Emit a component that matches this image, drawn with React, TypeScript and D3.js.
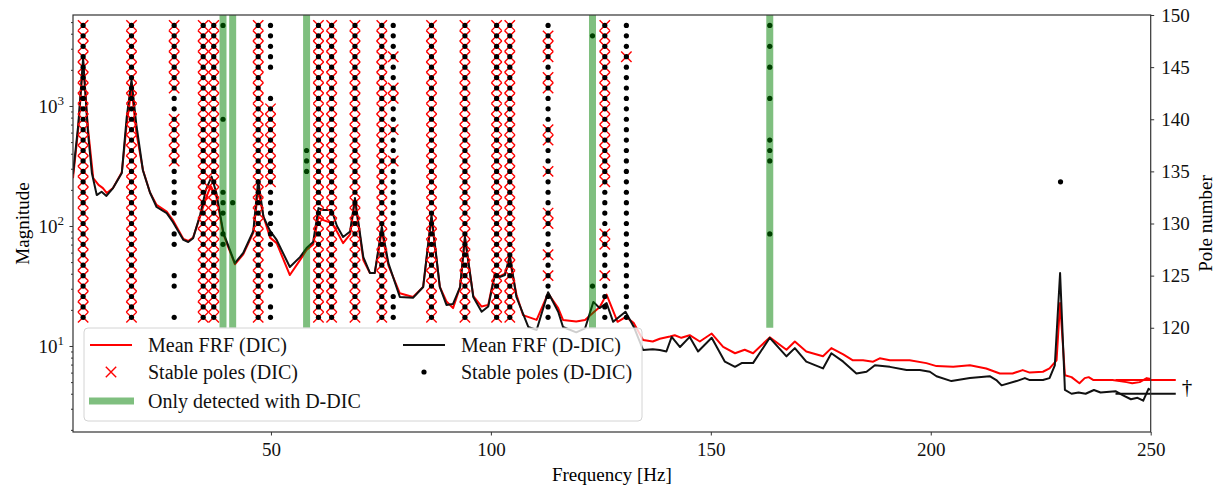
import React, { useEffect, useRef } from "react";
import * as d3 from "d3";

// axis ticks
const freqTicks = [50, 100, 150, 200, 250];
const magTicks = [10, 100, 1000];
const poleTicks = [120, 125, 130, 135, 140, 145, 150];

// mean FRF (DIC), [frequency Hz, magnitude]
const dicFrf: [number, number][] = [
  [5, 250], [6.2, 650], [7.3, 2350], [8.4, 650], [9.6, 251], [10.8, 220], [11.8, 207], [12.7, 188],
  [14.1, 207], [16.1, 280], [17.2, 700], [18.3, 1400], [19.4, 600], [20.9, 293], [22.5, 190], [24.0, 150],
  [26.3, 132], [27.7, 112], [30.1, 78], [31.2, 75], [32.3, 80], [33.9, 120], [35.2, 170], [36.3, 215],
  [37.6, 175], [39.2, 85], [41.8, 48], [43.7, 58], [46.0, 88], [47.1, 200], [48.3, 120], [49.8, 80],
  [51.3, 72], [54.3, 39], [56.6, 52], [58.1, 63], [59.6, 70], [60.8, 119], [61.9, 112], [63.8, 106],
  [65.0, 90], [66.4, 72], [68.0, 85], [69.1, 165], [71.0, 52], [72.5, 40.6], [73.6, 40.6], [75.2, 90],
  [76.7, 47], [79.3, 27.5], [82.3, 25.6], [84.6, 31], [86.5, 116], [88.4, 31], [89.9, 23.5], [91.4, 20.7],
  [93.0, 31], [94.1, 80], [96.0, 26], [97.9, 21.3], [99.4, 22], [100.9, 40.6], [102.0, 38], [103.2, 40],
  [104.3, 52], [105.8, 27], [107.3, 18.1], [110.4, 16.5], [113.0, 27.5], [115.3, 20.7], [116.4, 16.5],
  [119.4, 16], [121.4, 16.5], [123.3, 19], [124.7, 21], [126.3, 26.8], [128.8, 15.9], [130.7, 17.5],
  [132.5, 15.5], [134.6, 11.2], [136.8, 10.9], [138.4, 11.5], [140.7, 12.0], [141.8, 12.3], [143.3, 11.7],
  [145.2, 12.3], [147.5, 10.9], [150.2, 12.7], [152.8, 9.85], [155.5, 8.7], [157.7, 9.3], [159.6, 8.7],
  [163.4, 11.8], [167.2, 9.3], [169.1, 10.9], [171.7, 9.0], [175.5, 8.2], [177.4, 9.6], [180.1, 8.5],
  [182.3, 7.6], [184.6, 7.6], [186.9, 7.4], [188.4, 7.9], [190.7, 7.6], [195.2, 7.6], [199.0, 7.2],
  [201.3, 6.8], [205.1, 6.7], [208.9, 6.9], [212.6, 6.5], [215.7, 5.9], [218.6, 5.9], [220.9, 6.3],
  [222.5, 6.0], [225.5, 6.1], [227.0, 6.5], [228.6, 7.6], [229.4, 22.8], [230.5, 5.7], [232.0, 5.5],
  [233.8, 4.9], [235.0, 5.4], [235.9, 5.5], [237.0, 5.2], [241.3, 5.2], [244.5, 5.0], [245.8, 4.9],
  [247.5, 5.0], [249.1, 5.4], [250, 5.3],
];

// mean FRF (D-DIC)
const ddicFrf: [number, number][] = [
  [5, 270], [6.2, 700], [7.3, 2500], [8.4, 600], [9.3, 275], [10.4, 181], [11.5, 193], [12.6, 178],
  [14.1, 207], [16.1, 277], [17.2, 800], [18.3, 1650], [19.4, 700], [20.9, 290], [22.5, 190], [24.0, 144],
  [26.3, 128], [27.7, 108], [30.1, 76.5], [31.2, 73.6], [32.3, 79], [33.9, 124], [35.2, 200], [36.5, 258],
  [37.6, 188], [39.2, 87.5], [41.8, 49], [43.7, 59.6], [46.0, 91], [47.1, 242], [48.3, 119], [49.8, 91],
  [51.3, 76.5], [54.3, 45.5], [56.6, 55], [58.1, 65.6], [59.6, 73.6], [60.8, 141], [61.9, 136], [63.8, 136],
  [65.0, 100], [66.4, 81], [68.0, 90], [69.1, 171], [71.0, 55], [72.5, 40.6], [73.6, 40.6], [75.2, 98.5],
  [76.7, 49], [79.3, 25.6], [82.3, 25.2], [84.6, 31], [86.5, 124], [88.4, 31], [89.9, 22], [91.4, 22.4],
  [93.0, 31], [94.1, 81], [96.0, 25.6], [97.9, 19.3], [99.4, 21.3], [100.9, 39], [102.0, 37.6], [103.2, 39],
  [104.3, 57.3], [105.8, 25.6], [108.5, 14.4], [110.4, 13.6], [113.0, 28], [115.3, 19.3], [116.4, 14.4],
  [119.4, 13], [121.4, 14], [123.3, 23.3], [124.7, 20.7], [126.3, 22.8], [127.8, 15.9], [130.6, 19.3],
  [132.5, 14.4], [134.6, 9.26], [136.8, 9.4], [138.4, 9.26], [139.9, 9.0], [141.1, 11.9], [143.0, 9.8],
  [145.2, 11.9], [147.1, 9.0], [150.2, 11.7], [153.2, 7.4], [155.5, 6.7], [157.0, 7.2], [159.6, 7.2],
  [163.4, 11.7], [167.2, 8.2], [169.1, 9.6], [171.7, 7.4], [175.5, 6.5], [177.4, 8.7], [180.1, 7.4],
  [183.1, 5.9], [185.4, 6.1], [187.3, 6.9], [190.7, 6.7], [194.5, 6.3], [197.5, 6.3], [199.8, 6.1],
  [201.3, 5.6], [204.7, 5.1], [208.9, 5.4], [213.4, 5.6], [214.9, 5.2], [216.1, 4.7], [219.5, 5.1],
  [221.4, 5.4], [222.5, 5.2], [225.5, 5.2], [227.0, 5.4], [228.2, 6.9], [229.4, 40.6], [230.5, 4.3],
  [232.0, 4.0], [233.6, 4.1], [235.2, 4.0], [237.1, 4.3], [238.6, 4.1], [242.0, 4.2], [243.6, 3.9],
  [245.5, 3.6], [247.0, 3.7], [248.3, 3.5], [249.5, 4.4], [250, 4.3],
];

// flat levels marked with a dagger on the right
const levelFreq = [242, 255.7];
const levelMag = [5.2, 4.0];

// stable poles: frequency and ranges of pole numbers
const dicPoleFreq = [7.3, 18.3, 28.0, 34.6, 37.0, 47.1, 49.9, 60.8, 63.8, 69.1, 75.2, 77.8, 86.5, 94.1, 101.3, 104.3, 113.0, 125.9, 130.8];
const dicPoleOrders: [number, number][][] = [
  [[121, 149]], [[121, 149]], [[143, 149], [136, 140]], [[121, 149]], [[121, 149]], [[121, 149]],
  [[134, 141]], [[121, 149]], [[121, 149]], [[121, 149]], [[121, 149]],
  [[146, 146], [142, 143], [139, 139], [136, 136]],
  [[121, 149]], [[121, 149]], [[121, 149]], [[121, 149]],
  [[146, 148], [143, 144], [138, 139], [135, 135], [130, 131], [127, 127], [125, 125]],
  [[134, 149], [128, 129], [125, 125]], [[146, 146]],
];

const ddicPoleFreq = [7.3, 18.3, 28.0, 34.6, 37.0, 39.1, 41.3, 47.1, 49.9, 58.1, 60.8, 63.8, 69.1, 75.2, 77.8, 86.5, 94.1, 101.3, 104.3, 113.0, 123.1, 125.9, 130.8, 163.4, 229.5];
const ddicPoleOrders: [number, number][][] = [
  [[121, 149]], [[121, 149]], [[131, 149], [128, 129], [124, 125], [121, 121]], [[121, 149]], [[121, 149]],
  [[149, 149], [140, 140], [131, 133], [128, 129]], [[132, 132]], [[121, 149]],
  [[145, 149], [128, 142], [124, 125], [121, 122]], [[135, 137]],
  [[121, 149]], [[121, 149]], [[121, 149]], [[121, 149]], [[127, 149], [121, 123]],
  [[121, 149]], [[121, 149]], [[121, 149]], [[121, 149]], [[121, 149]],
  [[148, 148], [124, 124]], [[121, 149]], [[121, 149]],
  [[149, 149], [147, 147], [145, 145], [142, 142], [136, 138], [129, 129]], [[134, 134]],
];

// modes only detected with D-DIC
const onlyDdicFreq = [39.1, 41.3, 58.1, 123.1, 163.4];
const onlyDdicSpan = [120, 150];

const FONT = "'Liberation Serif', 'Times New Roman', serif";
const CROSS = "M-5.2,-5.2L5.2,5.2M-5.2,5.2L5.2,-5.2";

function expand(freqs: number[], orders: [number, number][][]) {
  const pts: [number, number][] = [];
  freqs.forEach((f, i) => {
    orders[i].forEach(([a, b]) => {
      for (let o = a; o <= b; o++) pts.push([f, o]);
    });
  });
  return pts;
}

export default function App() {
  const ref = useRef<SVGSVGElement>(null);

  useEffect(() => {
    const svg = d3.select(ref.current);
    svg.selectAll("*").remove();

    const left = 73, right = 1150.7, top = 15, bottom = 432;

    const x = d3.scaleLinear().domain([5, 250]).range([left, right]);
    const yMag = d3.scaleLog().domain([1.92, 5730]).range([bottom, top]);
    const yPole = d3.scaleLinear().domain([110, 150]).range([bottom, top]);

    svg.append("defs").append("clipPath").attr("id", "plot")
      .append("rect").attr("x", left).attr("y", top)
      .attr("width", right - left).attr("height", bottom - top);

    const line = d3.line<[number, number]>()
      .x(d => x(d[0]))
      .y(d => yMag(d[1]));

    const curves = svg.append("g").attr("clip-path", "url(#plot)");
    curves.append("path").attr("d", line(dicFrf))
      .attr("fill", "none").attr("stroke", "#ff0000").attr("stroke-width", 2)
      .attr("stroke-linejoin", "round");
    curves.append("path").attr("d", line(ddicFrf))
      .attr("fill", "none").attr("stroke", "#111").attr("stroke-width", 2)
      .attr("stroke-linejoin", "round");

    // dagger levels, running past the right axis
    const levelColors = ["#ff0000", "#111"];
    levelMag.forEach((m, i) => {
      svg.append("line")
        .attr("x1", x(levelFreq[0])).attr("x2", x(levelFreq[1]))
        .attr("y1", yMag(m)).attr("y2", yMag(m))
        .attr("stroke", levelColors[i]).attr("stroke-width", 2);
    });
    svg.append("text").text("†")
      .attr("x", 1187).attr("y", 394)
      .attr("text-anchor", "middle")
      .attr("font-family", FONT).attr("font-size", 21);

    // stable poles
    const poles = svg.append("g").attr("clip-path", "url(#plot)");
    poles.selectAll("path.cross")
      .data(expand(dicPoleFreq, dicPoleOrders))
      .enter().append("path")
      .attr("class", "cross")
      .attr("transform", d => `translate(${x(d[0])},${yPole(d[1])})`)
      .attr("d", CROSS)
      .attr("stroke", "#ff0000").attr("stroke-width", 1.4).attr("fill", "none");

    poles.selectAll("circle.dot")
      .data(expand(ddicPoleFreq, ddicPoleOrders))
      .enter().append("circle")
      .attr("class", "dot")
      .attr("cx", d => x(d[0])).attr("cy", d => yPole(d[1]))
      .attr("r", 2.6).attr("fill", "#000");

    poles.selectAll("line.only")
      .data(onlyDdicFreq)
      .enter().append("line")
      .attr("class", "only")
      .attr("x1", d => x(d)).attr("x2", d => x(d))
      .attr("y1", yPole(onlyDdicSpan[0])).attr("y2", yPole(onlyDdicSpan[1]))
      .attr("stroke", "#008000").attr("stroke-opacity", 0.5).attr("stroke-width", 7);

    // axes
    const tickFont = (g: any) => g.selectAll("text")
      .attr("font-family", FONT).attr("font-size", 19).attr("fill", "#111");
    const axisColor = (g: any) => {
      g.select(".domain").remove();
      g.selectAll("line").attr("stroke", "#333").attr("stroke-width", 1);
    };

    svg.append("g")
      .attr("transform", `translate(0,${bottom})`)
      .call(d3.axisBottom(x).tickValues(freqTicks).tickSize(3.5).tickPadding(7).tickFormat(d3.format("d")))
      .call(axisColor).call(tickFont);

    const minor = yMag.ticks().filter(v => !magTicks.includes(v));
    svg.append("g")
      .attr("transform", `translate(${left},0)`)
      .call(d3.axisLeft(yMag).tickValues(minor).tickSize(2).tickFormat(() => ""))
      .call(axisColor);

    const yAxis = svg.append("g")
      .attr("transform", `translate(${left},0)`)
      .call(d3.axisLeft(yMag).tickValues(magTicks).tickSize(3.5).tickFormat(() => ""))
      .call(axisColor);
    yAxis.selectAll("g.tick").each(function (d: any) {
      const t = d3.select(this).append("text")
        .attr("x", -9).attr("y", 6.5)
        .attr("text-anchor", "end")
        .attr("font-family", FONT).attr("fill", "#111");
      t.append("tspan").attr("font-size", 19).text("10");
      t.append("tspan").attr("font-size", 13).attr("dy", -8).text(String(Math.round(Math.log10(d))));
    });

    svg.append("g")
      .attr("transform", `translate(${right},0)`)
      .call(d3.axisRight(yPole).tickValues(poleTicks).tickSize(3.5).tickPadding(7))
      .call(axisColor).call(tickFont);

    svg.append("rect")
      .attr("x", left).attr("y", top)
      .attr("width", right - left).attr("height", bottom - top)
      .attr("fill", "none").attr("stroke", "#333").attr("stroke-width", 1.2);

    // axis labels
    svg.append("text").text("Frequency [Hz]")
      .attr("x", (left + right) / 2).attr("y", 481)
      .attr("text-anchor", "middle")
      .attr("font-family", FONT).attr("font-size", 19);
    svg.append("text").text("Magnitude")
      .attr("transform", `translate(29,${(top + bottom) / 2}) rotate(-90)`)
      .attr("text-anchor", "middle")
      .attr("font-family", FONT).attr("font-size", 19);
    svg.append("text").text("Pole number")
      .attr("transform", `translate(1212,${(top + bottom) / 2}) rotate(-90)`)
      .attr("text-anchor", "middle")
      .attr("font-family", FONT).attr("font-size", 19);

    // legend
    const lg = svg.append("g");
    lg.append("rect")
      .attr("x", 84).attr("y", 328).attr("width", 558).attr("height", 93).attr("rx", 4)
      .attr("fill", "#fff").attr("fill-opacity", 0.8)
      .attr("stroke", "#d4d4d4").attr("stroke-width", 1);

    const items = [
      { label: "Mean FRF (DIC)", kind: "line", color: "#ff0000", x: 90, y: 345 },
      { label: "Mean FRF (D-DIC)", kind: "line", color: "#111", x: 403, y: 345 },
      { label: "Stable poles (DIC)", kind: "cross", color: "#ff0000", x: 90, y: 372 },
      { label: "Stable poles (D-DIC)", kind: "dot", color: "#000", x: 403, y: 372 },
      { label: "Only detected with D-DIC", kind: "bar", color: "#008000", x: 90, y: 401 },
    ];
    items.forEach(it => {
      const cx = it.x + 21;
      if (it.kind === "line") {
        lg.append("line").attr("x1", it.x).attr("x2", it.x + 42)
          .attr("y1", it.y).attr("y2", it.y)
          .attr("stroke", it.color).attr("stroke-width", 2);
      } else if (it.kind === "cross") {
        lg.append("path").attr("transform", `translate(${cx},${it.y})`)
          .attr("d", CROSS)
          .attr("stroke", it.color).attr("stroke-width", 1.4);
      } else if (it.kind === "dot") {
        lg.append("circle").attr("cx", cx).attr("cy", it.y).attr("r", 2.6).attr("fill", it.color);
      } else {
        lg.append("line").attr("x1", it.x - 1).attr("x2", it.x + 44)
          .attr("y1", it.y).attr("y2", it.y)
          .attr("stroke", it.color).attr("stroke-opacity", 0.5).attr("stroke-width", 7);
      }
      lg.append("text").text(it.label)
        .attr("x", it.x + 58).attr("y", it.y + 7)
        .attr("font-family", FONT).attr("font-size", 20).attr("fill", "#111");
    });
  }, []);

  return (
    <svg
      ref={ref}
      width={1215}
      height={486}
      style={{ position: "absolute", left: 0, top: 0, background: "#fff" }}
    />
  );
}
